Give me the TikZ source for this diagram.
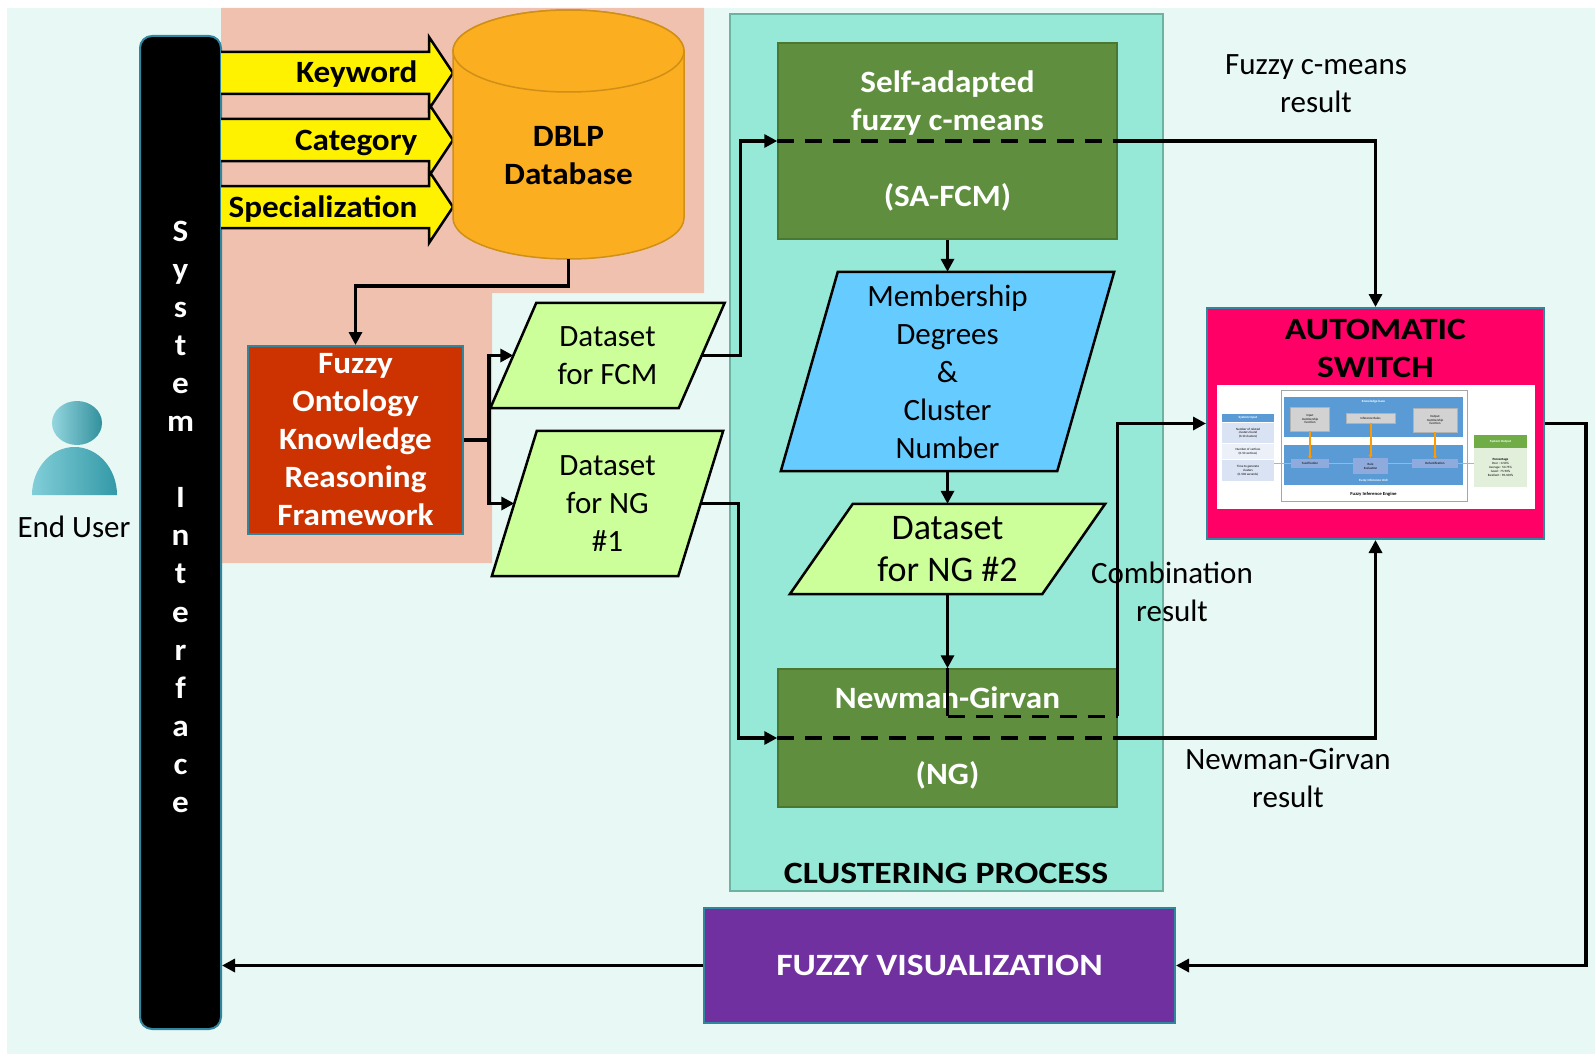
\documentclass[tikz,border=0pt]{standalone}
\usepackage{fontspec}
\setmainfont{Carlito}[BoldFeatures={FakeStretch=1.07}]
\newfontfamily\capsfont{Carlito}[BoldFeatures={FakeStretch=1.15}]
\usetikzlibrary{arrows.meta}

\definecolor{bgmint}{HTML}{E8F8F5}
\definecolor{salmon}{HTML}{F1C1B0}
\definecolor{clustbg}{HTML}{96E8D7}
\definecolor{clustln}{HTML}{6DB3A3}
\definecolor{algogreen}{HTML}{5F8F3E}
\definecolor{algoline}{HTML}{4C7731}
\definecolor{datagreen}{HTML}{CCFF99}
\definecolor{membblue}{HTML}{66CCFF}
\definecolor{fokred}{HTML}{CC3300}
\definecolor{tealline}{HTML}{31859C}
\definecolor{switchpink}{HTML}{FF0066}
\definecolor{vispurple}{HTML}{7030A0}
\definecolor{dbfill}{HTML}{FBAE1F}
\definecolor{dbline}{HTML}{D08F16}
\definecolor{usercyan}{HTML}{3DB4C4}
\definecolor{kbblue}{HTML}{5B9BD5}
\definecolor{fiublue}{HTML}{8FAADC}
\definecolor{outgreen}{HTML}{70AD47}
\definecolor{ingrid}{HTML}{DAE3F3}
\definecolor{outgrid}{HTML}{E2EFDA}

\newcommand{\nodefont}{\fontsize{31}{38}\selectfont}
\newcommand{\bignodefont}{\fontsize{36}{42}\selectfont}
\newcommand{\fiefont}{\fontsize{3.2}{3.8}\selectfont}

% slanted data box: [text options]{name}{centre}{edge width}{height}{half slant}{fill}{text}
\newcommand{\slantbox}[8][]{%
  \node[rectangle, inner sep=0pt, minimum width=#4, minimum height=#5] (#2) at (#3) {};
  \draw[line width=2.5pt, fill=#7, line join=miter]
    ([xshift=#6]#2.north west) -- ([xshift=#6]#2.north east)
    -- ([xshift=-#6]#2.south east) -- ([xshift=-#6]#2.south west) -- cycle;
  \node[font=\nodefont, align=center, #1] at (#2.center) {#8};}

\begin{document}
\begin{tikzpicture}[x=1pt, y=-1pt,
    conn/.style={line width=3.2pt, -{Triangle[length=13pt,width=13pt]}},
    link/.style={line width=3.2pt},
    dashlink/.style={line width=3.2pt, dash pattern=on 17pt off 11pt},
    inarrow/.style={draw=black, line width=2.5pt, fill=yellow},
    algo/.style={rectangle, draw=algoline, line width=1.5pt, fill=algogreen,
        text=white, font=\nodefont\bfseries, align=center, minimum width=339pt},
    plainbox/.style={rectangle, draw=tealline, line width=2pt, align=center},
    note/.style={font=\nodefont, align=center},
    capslabel/.style={font=\nodefont\capsfont\bfseries, align=center},
    sichar/.style={font=\nodefont\bfseries, text=white, anchor=base},
    fiebox/.style={rectangle, inner sep=0pt, font=\fiefont, align=center},
    fiearrow/.style={draw=orange!80!yellow, line width=2pt, -{Triangle[length=3pt,width=4pt]}}]

\useasboundingbox (0,0) rectangle (1595,1054);
\fill[bgmint] (7,8) rectangle (1595,1054);

% input area and clustering area
\fill[salmon] (221,8) -- (704,8) -- (704,293) -- (492,293) -- (492,563) -- (221,563) -- cycle;
\draw[clustln, line width=2pt, fill=clustbg] (730,14) rectangle (1163,891);

% end user
\shade[left color=usercyan!55!white, right color=usercyan!80!black] (77,423) ellipse [x radius=25pt, y radius=22pt];
\shade[left color=usercyan!65!white, right color=usercyan!85!black] (32,495)
    arc[start angle=180, end angle=0, x radius=42.5pt, y radius=48pt] -- cycle;
\node[note] (user) at (74,527) {End User};

% system interface bar
\node[rectangle, rounded corners=12pt, fill=black, draw=tealline, line width=2pt,
    minimum width=81pt, minimum height=993pt] (si) at (180.5,532.5) {};
\foreach \i/\c in {0/S,1/y,2/s,3/t,4/e,5/m,7/I,8/n,9/t,10/e,11/r,12/f,13/a,14/c,15/e}
    \node[sichar] at (180.5,{241+38.1*\i}) {\c};

% query arrows
\foreach \y/\t in {73/Keyword,140/Category,207/Specialization} {
    \draw[inarrow] (221,{\y-21}) -- (429,{\y-21}) -- (429,{\y-36}) -- (453,\y)
        -- (429,{\y+36}) -- (429,{\y+21}) -- (221,{\y+21});
    \node[font=\nodefont\bfseries, anchor=base east] at (421,{\y+10}) {\t};
}

% database
\draw[draw=dbline, line width=1.5pt, fill=dbfill] (453,51) -- (453,218)
    arc[start angle=180, end angle=360, x radius=115.5pt, y radius=41pt] -- (684,51)
    arc[start angle=0, end angle=180, x radius=115.5pt, y radius=41pt] -- cycle;
\draw[draw=dbline, line width=1.5pt, fill=dbfill] (568.5,51) ellipse [x radius=115.5pt, y radius=41pt];
\node[font=\nodefont\bfseries, align=center] (db) at (568.5,156) {DBLP\\Database};
\coordinate (dbbase) at (568.5,259);

\node[plainbox, fill=fokred, text=white, font=\nodefont\bfseries,
    minimum width=215pt, minimum height=188pt] (fok) at (355.5,440)
    {Fuzzy\\Ontology\\Knowledge\\Reasoning\\Framework};

\slantbox{dsfcm}{607.5,355.5}{188pt}{105pt}{23pt}{datagreen}{Dataset\\for FCM}
\slantbox{dsng1}{607.5,503.5}{186pt}{145pt}{22.5pt}{datagreen}{Dataset\\for NG\\\#1}

% clustering
\node[algo, minimum height=196pt] (safcm) at (947.5,141)
    {Self-adapted\\fuzzy c-means\\[38pt](SA-FCM)};
\slantbox{memb}{947.5,371.5}{276pt}{199pt}{28.5pt}{membblue}{Membership\\Degrees\\\&\\Cluster\\Number}
\slantbox[font=\bignodefont]{dsng2}{947.5,549}{252pt}{90pt}{31.5pt}{datagreen}{Dataset\\for NG \#2}
\node[algo, minimum height=138pt] (ngbox) at (947.5,738) {Newman-Girvan\\[38pt](NG)};
\node[capslabel] (cptitle) at (946,873) {CLUSTERING PROCESS};

% switch with its fuzzy inference engine
\node[plainbox, fill=switchpink, minimum width=337pt, minimum height=231pt] (sw) at (1375.5,423.5) {};
\node[capslabel] (swtitle) at (1375.5,348) {AUTOMATIC\\SWITCH};
\fill[white] (1217,385) rectangle (1535,509);
\draw[gray!70, line width=1pt, fill=white] (1281,390) rectangle (1467,501);
\fill[kbblue] (1284,397) rectangle (1463,437);
\fill[kbblue] (1284,445) rectangle (1463,485);
\node[fiebox, text=white] (kbase) at (1373.5,402) {\bfseries Knowledge base};
\node[fiebox, text=white] (fiunit) at (1373.5,481) {\bfseries Fuzzy Inference Unit};
\node[fiebox, font=\fontsize{4.6}{5}\selectfont\bfseries] (fieng) at (1373.5,494) {Fuzzy Inference Engine};
\node[fiebox, fill=gray!35, draw=gray!60, minimum width=39pt, minimum height=24pt] (imf) at (1310,419) {Input\\membership\\function};
\node[fiebox, fill=gray!35, draw=gray!60, minimum width=49pt, minimum height=10pt] (irule) at (1370.5,418) {Inference Rules};
\node[fiebox, fill=gray!35, draw=gray!60, minimum width=44pt, minimum height=24pt] (omf) at (1435,420) {Output\\membership\\function};
\node[fiebox, fill=fiublue, minimum width=38pt, minimum height=9pt] (fzf) at (1310,463.5) {Fuzzification};
\node[fiebox, fill=fiublue, minimum width=35pt, minimum height=16pt] (rev) at (1370.5,466) {Rule\\Evaluation};
\node[fiebox, fill=fiublue, minimum width=46pt, minimum height=9pt] (dfz) at (1435,463.5) {Defuzzification};
\node[fiebox, fill=kbblue, text=white, minimum width=52pt, minimum height=8pt] (sinhead) at (1248,418) {\bfseries System Input};
\node[fiebox, fill=ingrid, minimum width=52pt, minimum height=20pt] (sin1) at (1248,433) {Number of related\\clusters found\\(0-10 clusters)};
\node[fiebox, fill=ingrid!50!white, minimum width=52pt, minimum height=15pt] (sin2) at (1248,451.5) {Number of vertices\\(0-50 vertices)};
\node[fiebox, fill=ingrid, minimum width=52pt, minimum height=21pt] (sin3) at (1248,470.5) {Time to generate\\clusters\\(0-500 seconds)};
\node[fiebox, fill=outgreen, text=white, minimum width=53pt, minimum height=13pt] (southead) at (1500.5,441.5) {\bfseries System Output};
\node[fiebox, fill=outgrid, minimum width=53pt, minimum height=39pt] (sout) at (1500.5,467.5)
    {\bfseries Percentage\\Poor : 0-50\%\\Average : 50-75\%\\Good : 75-90\%\\Excellent : 90-100\%};
\draw[gray!60, line width=1.2pt] (fzf.west -| sin3.east) -- (fzf.west);
\draw[gray!60, line width=1.2pt] (fzf.east) -- (rev.west |- fzf.east);
\draw[gray!60, line width=1.2pt] (rev.east |- dfz.west) -- (dfz.west);
\draw[gray!60, line width=1.2pt] (dfz.east) -- (dfz.east -| sout.west);
\draw[fiearrow] (imf) -- (fzf);
\draw[fiearrow] (irule) -- (rev);
\draw[fiearrow] (omf) -- (dfz);

\node[plainbox, fill=vispurple, text=white, capslabel,
    minimum width=471pt, minimum height=115pt] (fv) at (939.5,965.5) {FUZZY VISUALIZATION};

% result labels
\node[note] (fcmres) at (1316,84) {Fuzzy c-means\\result};
\node[note] (combres) at (1172,592) {Combination\\result};
\node[note] (ngres) at (1288,778) {Newman-Girvan\\result};

% connectors
\draw[conn] (dbbase) -- ++(0,27) -| (fok.north);
\draw[link] (fok.east) -- ++(25,0) coordinate (split);
\draw[conn] (split) |- (dsfcm);
\draw[conn] (split) |- (dsng1);
\draw[conn] (dsfcm.east) -- ++(39,0) |- (safcm.west);
\draw[dashlink] (safcm.west) -- (safcm.east);
\draw[conn] (safcm.east) -| (sw.north);
\draw[conn] (safcm) -- (memb);
\draw[conn] (memb) -- (dsng2);
\draw[conn] (dsng2) -- (ngbox);
\draw[conn] (dsng1.east) -- ++(38,0) |- (ngbox.west);
\draw[dashlink] (ngbox.west) -- (ngbox.east);
\draw[conn] (ngbox.east) -| (sw.south);
\draw[link] (ngbox.north) -- ++(0,48) coordinate (comb);
\draw[dashlink] (comb) -- (comb -| ngbox.east);
\draw[conn] (comb -| ngbox.east) |- (sw.west);
\draw[conn] (sw.east) -- ++(41,0) |- (fv.east);
\draw[conn] (fv.west) -- (si.east |- fv.west);

\end{tikzpicture}
\end{document}
